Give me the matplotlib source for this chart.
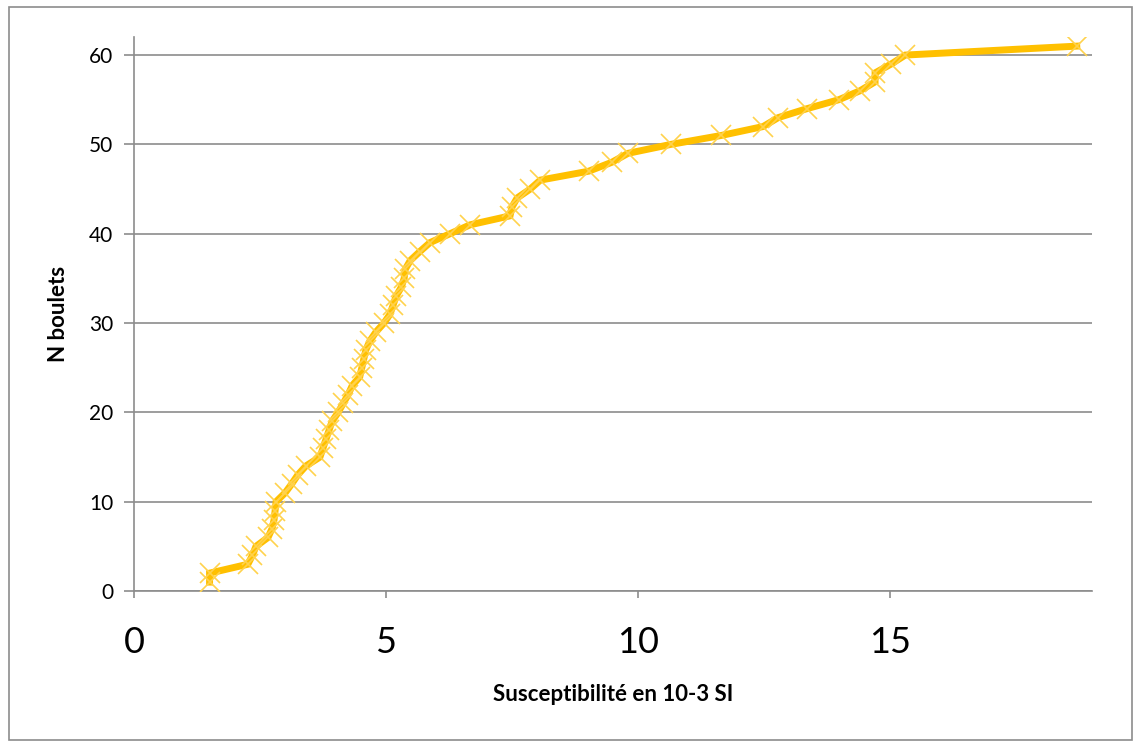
import matplotlib.pyplot as plt
from matplotlib.patches import Rectangle

# susceptibilite (10-3 SI) vs cumulative number of boulets
suscept = [1.50, 1.50, 2.26, 2.35, 2.42, 2.66, 2.74, 2.78, 2.80, 2.82,
           3.00, 3.13, 3.25, 3.41, 3.69, 3.75, 3.81, 3.87, 3.93, 4.05,
           4.15, 4.25, 4.33, 4.48, 4.52, 4.56, 4.60, 4.68, 4.80, 4.96,
           5.08, 5.14, 5.20, 5.30, 5.36, 5.38, 5.48, 5.67, 5.87, 6.27,
           6.67, 7.46, 7.50, 7.60, 7.86, 8.06, 9.02, 9.48, 9.80, 10.65,
           11.65, 12.48, 12.78, 13.35, 13.98, 14.40, 14.70, 14.70, 15.02, 15.30,
           18.70]
n_boulets = list(range(1, len(suscept) + 1))

x_ticks = [0, 5, 10, 15]
y_ticks = [0, 10, 20, 30, 40, 50, 60]

plt.rcParams['font.family'] = ['Lato', 'DejaVu Sans']

fig = plt.figure(figsize=(11.35, 7.44), dpi=100)
ax = fig.add_axes([0.118, 0.2056, 0.844, 0.7444])

ax.plot(suscept, n_boulets, color='#FFC000', linewidth=5, zorder=3,
        marker='x', markersize=15, markeredgewidth=1.2,
        markeredgecolor='#FFD24D', solid_joinstyle='miter')

ax.set_xlim(0, 19)
ax.set_ylim(0, 62)
ax.set_xticks(x_ticks)
ax.set_yticks(y_ticks)
ax.yaxis.grid(True, color='#8C8C8C', linewidth=1.2)
ax.set_axisbelow(True)

for s in ['top', 'right']:
    ax.spines[s].set_visible(False)
for s in ['left', 'bottom']:
    ax.spines[s].set_color('#8C8C8C')
    ax.spines[s].set_linewidth(1.2)

ax.tick_params(axis='y', direction='out', length=7, width=1.2,
               color='#8C8C8C', labelsize=15, pad=8)
ax.tick_params(axis='x', direction='out', length=5, width=1.2,
               color='#8C8C8C', labelsize=26, pad=20)

ax.set_xlabel('Susceptibilité en 10-3 SI', fontsize=16, fontweight='bold', labelpad=18)
ax.set_ylabel('N boulets', fontsize=16, fontweight='bold', labelpad=14)

# chart border
fig.patches.append(Rectangle((0.008, 0.006), 0.989, 0.985, transform=fig.transFigure,
                             fill=False, edgecolor='#8C8C8C', linewidth=1.2))

fig.savefig('out.png', dpi=100)
